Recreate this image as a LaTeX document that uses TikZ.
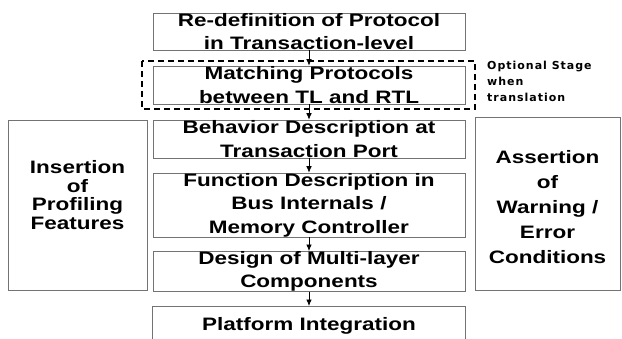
\documentclass[tikz,border=0pt]{standalone}
\usepackage{fontspec}
\usetikzlibrary{arrows.meta}
\newfontfamily\boxfont[FakeStretch=1.25]{Liberation Sans}
\newfontfamily\notefont[LetterSpace=9]{DejaVu Sans}
\begin{document}
\begin{tikzpicture}[x=1pt,y=-1pt,
  stage/.style={draw=black!55,line width=0.6pt,inner sep=0pt,
    font=\boxfont\bfseries\fontsize{18}{23.5}\selectfont,align=center},
  label/.style={inner sep=0pt,align=center},
  flow/.style={line width=0.8pt,-{Latex[length=6.5pt,width=5.5pt]}},
  optional/.style={draw=black,line width=1.2pt,dash pattern=on 6pt off 4pt}]
\useasboundingbox (0,0) rectangle (622,338);

% optional stage frame
\draw[optional] (142,61) rectangle (475,109);

% design flow stages
\node[stage,minimum width=312pt,minimum height=37pt] (b1) at (309,31.5)
  {Re-definition of Protocol\\in Transaction-level};
\node[stage,minimum width=312pt,minimum height=38pt] (b2) at (309,85)
  {Matching Protocols\\between TL and RTL};
\node[stage,minimum width=312pt,minimum height=38pt] (b3) at (309,139)
  {Behavior Description at\\Transaction Port};
\node[stage,minimum width=312pt,minimum height=64pt] (b4) at (309,205)
  {Function Description in\\Bus Internals /\\Memory Controller};
\node[stage,minimum width=312pt,minimum height=37pt] (b5) at (309,271.5)
  {Design of Multi-layer\\Components};
\node[stage,draw=none,minimum width=312pt,minimum height=40pt,anchor=north] (b6) at (309,306)
  {\raisebox{-4pt}{Platform Integration}};
\draw[draw=black!55,line width=0.6pt] (b6.south west) |- (b6.north east) -- (b6.south east);

% side activities
\node[stage,minimum width=139pt,minimum height=170pt] (left) at (77.5,205) {};
\node[label,font=\boxfont\bfseries\fontsize{18}{18.5}\selectfont] (leftlabel) at (77.5,195)
  {Insertion\\of\\Profiling\\Features};
\node[stage,minimum width=145pt,minimum height=173pt] (right) at (547.5,203.5) {};
\node[label,font=\boxfont\bfseries\fontsize{18}{25}\selectfont] (rightlabel) at (547.5,207)
  {Assertion\\of\\Warning /\\Error\\Conditions};

% note on the optional stage
\node[anchor=north west,inner sep=0pt,align=left,
  font=\notefont\bfseries\fontsize{11}{16}\selectfont] (note) at (487,60.5)
  {Optional Stage\\when\\translation};

% flow arrows
\draw[flow] (b1.south) -- (b2.north);
\draw[flow] (b2.south) -- (b3.north);
\draw[flow] (b3.south) -- (b4.north);
\draw[flow] (b4.south) -- (b5.north);
\draw[flow] (b5.south) -- (b6.north);
\end{tikzpicture}
\end{document}
